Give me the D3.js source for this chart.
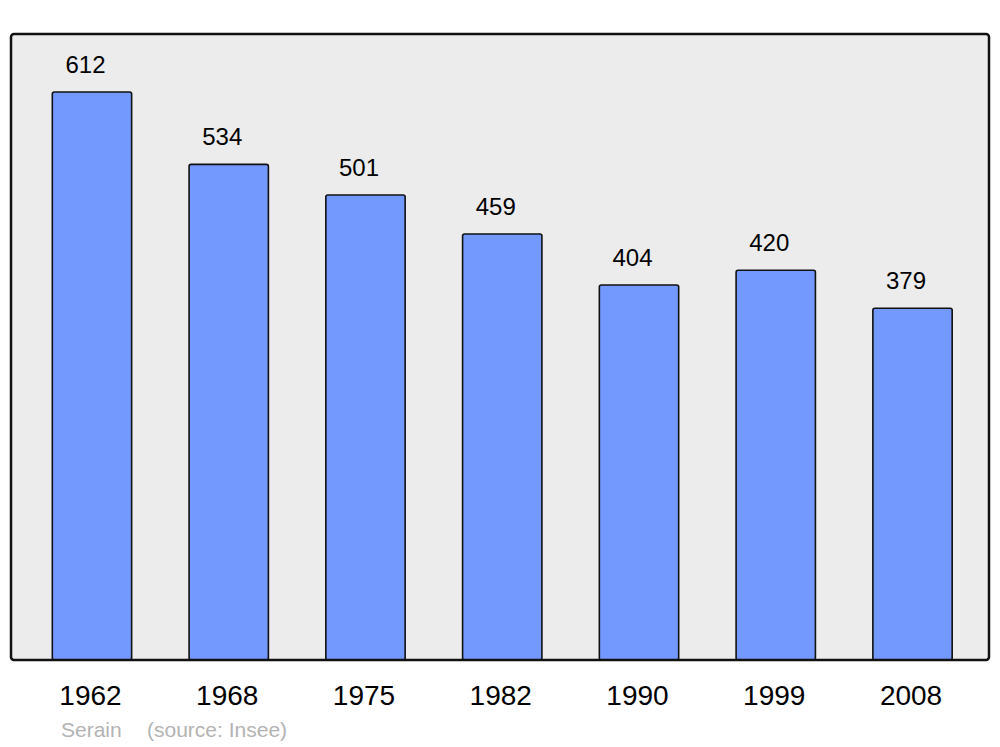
<!DOCTYPE html>
<html><head><meta charset="utf-8">
<script src="https://cdn.jsdelivr.net/npm/d3@7"></script>
<style>body{margin:0;background:#fff}svg{display:block;font-family:"Liberation Sans",Arial,sans-serif}</style>
</head><body>
<svg id="c" width="1000" height="747"></svg>
<script>
const years = ["1962","1968","1975","1982","1990","1999","2008"];
const population = [612,534,501,459,404,420,379];
const place = "Serain";
const source = "(source: Insee)";

const svg = d3.select("#c");
const frame = {x0:11, y0:34, x1:989, y1:660};
svg.append("rect").attr("x",frame.x0).attr("y",frame.y0)
  .attr("width",frame.x1-frame.x0).attr("height",frame.y1-frame.y0)
  .attr("rx",3).attr("fill","#ececec");

const x = d3.scaleBand().domain(years).range([23.6,980.9]).paddingInner(0.42).paddingOuter(0.21);
const y = d3.scaleLinear().domain([0,612]).range([660,92]);

const data = years.map((yr,i)=>({yr, v:population[i]}));
svg.selectAll("rect.bar").data(data).enter().append("rect").attr("class","bar")
  .attr("x",d=>x(d.yr)).attr("y",d=>y(d.v))
  .attr("width",x.bandwidth()).attr("height",d=>y(0)-y(d.v))
  .attr("rx",2).attr("fill","#7399ff").attr("stroke","#111").attr("stroke-width",1.6);

svg.selectAll("text.val").data(data).enter().append("text").attr("class","val")
  .attr("x",d=>x(d.yr)+x.bandwidth()/2-6.5).attr("y",d=>y(d.v)-19)
  .attr("text-anchor","middle").attr("font-size",24).attr("fill","#000").text(d=>d.v);

// frame outline on top
svg.append("rect").attr("x",frame.x0).attr("y",frame.y0)
  .attr("width",frame.x1-frame.x0).attr("height",frame.y1-frame.y0)
  .attr("rx",3).attr("fill","none").attr("stroke","#111").attr("stroke-width",2.5);

const xAxis = d3.axisBottom(x).tickSize(0).tickPadding(0);
const ax = svg.append("g").attr("transform","translate(-1.5,660)").call(xAxis);
ax.select(".domain").remove();
ax.selectAll("text").attr("font-size",28).attr("font-family","Liberation Sans, Arial, sans-serif")
  .attr("fill","#000").attr("dy",null).attr("y",45);

svg.append("text").attr("x",61).attr("y",737).attr("font-size",21).attr("fill","#b3b3b3").text(place);
svg.append("text").attr("x",147).attr("y",737).attr("font-size",21).attr("fill","#b3b3b3").text(source);
</script>
</body></html>
